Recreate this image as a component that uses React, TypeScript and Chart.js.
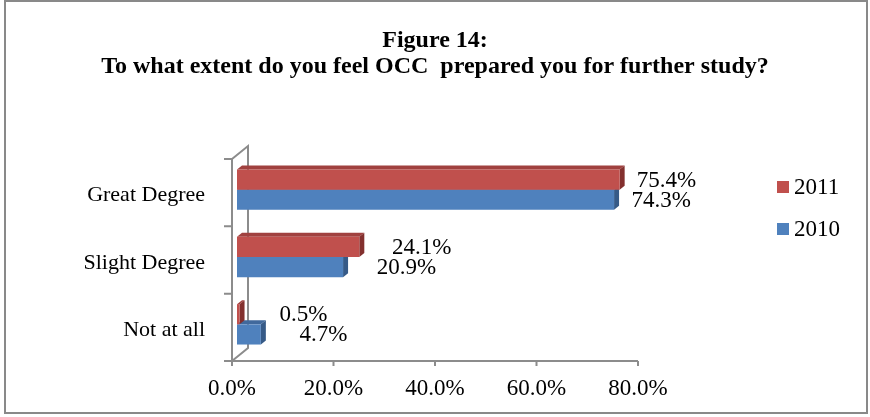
import React, { useEffect, useRef } from "react";
import { Chart, registerables } from "chart.js";

Chart.register(...registerables);

const categories = ["Great Degree", "Slight Degree", "Not at all"];
const series2011 = [75.4, 24.1, 0.5];
const series2010 = [74.3, 20.9, 4.7];
const seriesNames = ["2011", "2010"];
const titleLines = ["Figure 14:", "To what extent do you feel OCC  prepared you for further study?"];
const xMin = 0;
const xMax = 80;
const xStep = 20;

const SERIF = "'Liberation Serif', 'Times New Roman', serif";
const frontColors = ["#C0504D", "#4F81BD"];
const topColors = ["#A0413F", "#41699C"];
const sideColors = ["#83302E", "#365A87"];
const AXIS = "#8C8C8C";
const SHIFT = { x: 5, y: -3 };
const DEPTH = { x: 5, y: -4 };
const WALL = { x: 16, y: -13 };

const threeD = {
  id: "threeD",
  beforeDatasetsDraw(chart: any) {
    const ctx = chart.ctx;
    const { left, right, top, bottom } = chart.chartArea;
    const xs = chart.scales.x;
    ctx.save();
    ctx.strokeStyle = AXIS;
    ctx.lineWidth = 2;
    ctx.beginPath();
    ctx.moveTo(left, top);
    ctx.lineTo(left, bottom);
    ctx.moveTo(left, top);
    ctx.lineTo(left + WALL.x, top + WALL.y);
    ctx.lineTo(left + WALL.x, bottom + WALL.y);
    ctx.lineTo(left, bottom);
    const n = categories.length;
    for (let i = 0; i <= n; i++) {
      const y = top + (i * (bottom - top)) / n;
      ctx.moveTo(left - 8, y);
      ctx.lineTo(left, y);
    }
    ctx.moveTo(left - 8, bottom);
    ctx.lineTo(right, bottom);
    for (let v = xMin; v <= xMax; v += xStep) {
      const x = xs.getPixelForValue(v);
      ctx.moveTo(x, bottom);
      ctx.lineTo(x, bottom + 5);
    }
    ctx.stroke();

    ctx.translate(SHIFT.x, SHIFT.y);
    for (let d = chart.data.datasets.length - 1; d >= 0; d--) {
      const meta = chart.getDatasetMeta(d);
      meta.data.forEach((el: any) => {
        const { x, y, base, height } = el.getProps(["x", "y", "base", "height"], true);
        const t = y - height / 2;
        const b = y + height / 2;
        ctx.fillStyle = topColors[d];
        ctx.beginPath();
        ctx.moveTo(base, t);
        ctx.lineTo(x, t);
        ctx.lineTo(x + DEPTH.x, t + DEPTH.y);
        ctx.lineTo(base + DEPTH.x, t + DEPTH.y);
        ctx.closePath();
        ctx.fill();
        ctx.fillStyle = sideColors[d];
        ctx.beginPath();
        ctx.moveTo(x, t);
        ctx.lineTo(x + DEPTH.x, t + DEPTH.y);
        ctx.lineTo(x + DEPTH.x, b + DEPTH.y);
        ctx.lineTo(x, b);
        ctx.closePath();
        ctx.fill();
      });
    }
  },
  afterDatasetsDraw(chart: any) {
    chart.ctx.restore();
  },
  afterDraw(chart: any) {
    const ctx = chart.ctx;
    const { left } = chart.chartArea;
    ctx.save();
    // data labels (placed on a slightly compressed label plane, like the 3D original)
    ctx.fillStyle = "#000";
    ctx.font = `23px ${SERIF}`;
    ctx.textAlign = "left";
    ctx.textBaseline = "middle";
    chart.data.datasets.forEach((ds: any, d: number) => {
      const meta = chart.getDatasetMeta(d);
      meta.data.forEach((el: any, i: number) => {
        const { x, y } = el.getProps(["x", "y"], true);
        const lx = left + 45 + (x - left) * 0.94;
        ctx.fillText(`${ds.data[i].toFixed(1)}%`, lx, y + SHIFT.y + 1);
      });
    });
    // title
    ctx.font = `bold 24px ${SERIF}`;
    ctx.textAlign = "center";
    ctx.textBaseline = "alphabetic";
    ctx.fillText(titleLines[0], chart.width / 2, 47);
    ctx.fillText(titleLines[1], chart.width / 2, 73);
    // legend
    ctx.font = `23px ${SERIF}`;
    ctx.textAlign = "left";
    ctx.textBaseline = "middle";
    seriesNames.forEach((name, i) => {
      const y = 187 + i * 42;
      ctx.fillStyle = frontColors[i];
      ctx.fillRect(777, y - 6, 12, 12);
      ctx.fillStyle = "#000";
      ctx.fillText(name, 794, y + 1);
    });
    ctx.restore();
  },
};

export default function App() {
  const ref = useRef<HTMLCanvasElement | null>(null);
  useEffect(() => {
    if (!ref.current) return;
    const chart = new Chart(ref.current, {
      type: "bar",
      data: {
        labels: categories,
        datasets: [
          { label: seriesNames[0], data: series2011, backgroundColor: frontColors[0], clip: false as any },
          { label: seriesNames[1], data: series2010, backgroundColor: frontColors[1], clip: false as any },
        ],
      },
      options: {
        indexAxis: "y",
        animation: false,
        responsive: true,
        maintainAspectRatio: false,
        layout: { padding: { top: 159, right: 232, left: 0, bottom: 0 } },
        datasets: { bar: { categoryPercentage: 0.6, barPercentage: 1 } },
        plugins: { legend: { display: false }, title: { display: false }, tooltip: { enabled: false } },
        scales: {
          x: {
            min: xMin,
            max: xMax,
            grid: { display: false, drawTicks: false },
            border: { display: false },
            afterFit: (s: any) => {
              s.height = 56;
            },
            ticks: {
              stepSize: xStep,
              padding: 14,
              color: "#000",
              font: { family: SERIF, size: 23 },
              callback: (v: any) => `${Number(v).toFixed(1)}%`,
            },
          },
          y: {
            grid: { display: false, drawTicks: false },
            border: { display: false },
            afterFit: (s: any) => {
              s.width = 232;
            },
            ticks: { padding: 27, labelOffset: 3, color: "#000", font: { family: SERIF, size: 22 } },
          },
        },
      },
      plugins: [threeD],
    });
    return () => chart.destroy();
  }, []);
  return (
    <div style={{ position: "absolute", left: 0, top: 0, width: 870, height: 417, background: "#fff" }}>
      <canvas ref={ref} />
      <div
        style={{
          position: "absolute",
          left: 4,
          top: 0,
          width: 864,
          height: 414,
          boxSizing: "border-box",
          border: "2px solid #898989",
          pointerEvents: "none",
        }}
      />
    </div>
  );
}
